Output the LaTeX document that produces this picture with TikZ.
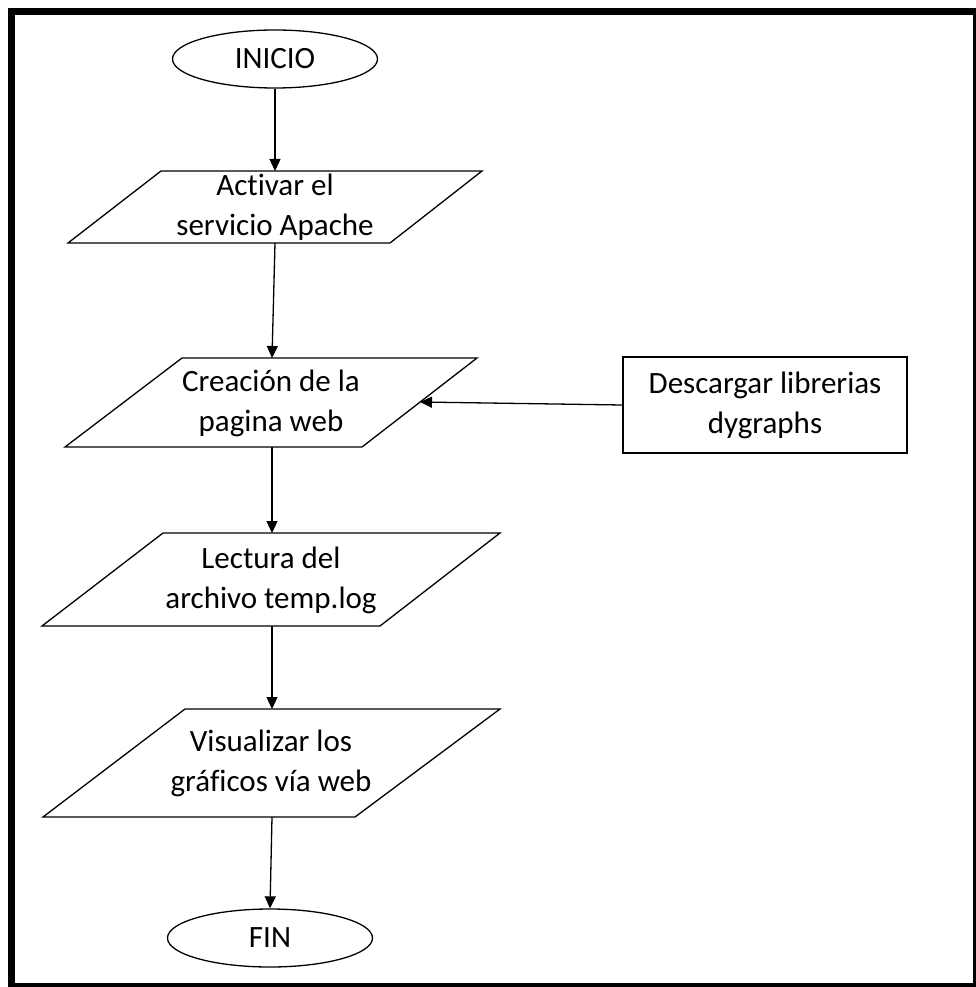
\documentclass[tikz,border=0pt]{standalone}
\usepackage{fontspec}
\setmainfont{Carlito}[Ligatures=NoCommon]
\usetikzlibrary{shapes.geometric,arrows.meta}

\tikzset{
  flowline/.style={line width=1.3pt, -{Triangle[length=12pt,width=11pt]}},
  shapeline/.style={line width=1.3pt, line join=miter},
  txt/.style={align=center, font=\fontsize{31}{40}\selectfont, inner sep=0pt},
  terminal/.style={ellipse, draw, line width=1.3pt, minimum width=205pt, minimum height=58pt,
                   inner sep=0pt, font=\fontsize{31}{40}\selectfont},
  procbox/.style={rectangle, draw, line width=1.3pt, minimum width=284pt, minimum height=96pt,
                  align=center, inner sep=0pt, font=\fontsize{31}{40}\selectfont},
}

\begin{document}
\begin{tikzpicture}[x=1pt,y=-1pt]
  \useasboundingbox (0,0) rectangle (976,987);
  \clip (0,0) rectangle (976,987);
  \fill[white] (0,0) rectangle (976,987);

  % outer frame
  \draw[line width=7pt] (11.5,11.5) rectangle (976.5,986.5);

  % start and end
  \node[terminal] (inicio) at (275,59) {INICIO};
  \node[terminal] (fin) at (270,938) {FIN};

  % input/output parallelograms
  \draw[shapeline] (161,171) -- (482,171) -- (390,243) -- (68,243) -- cycle;
  \coordinate (p1t) at (275,171);
  \coordinate (p1b) at (275,243);
  \node[txt] (p1) at (275,207) {Activar el\\servicio Apache};

  \draw[shapeline] (182,358) -- (477,358) -- (362,447) -- (65,447) -- cycle;
  \coordinate (p2t) at (272,358);
  \coordinate (p2b) at (272,447);
  \coordinate (p2r) at (420,402);
  \node[txt] (p2) at (271,403) {Creación de la\\pagina web};

  \draw[shapeline] (163,533) -- (500,533) -- (380,626) -- (42,626) -- cycle;
  \coordinate (p3t) at (272,533);
  \coordinate (p3b) at (272,626);
  \node[txt] (p3) at (271,580) {Lectura del\\archivo temp.log};

  \draw[shapeline] (185,709) -- (500,709) -- (355,817) -- (43,817) -- cycle;
  \coordinate (p4t) at (272,709);
  \coordinate (p4b) at (272,817);
  \node[txt] (p4) at (271,763) {Visualizar los\\gráficos vía web};

  % side process
  \node[procbox] (lib) at (765,405) {Descargar librerias\\dygraphs};

  % connectors
  \draw[flowline] (inicio.south) -- (p1t);
  \draw[flowline] (p1b) -- (p2t);
  \draw[flowline] (lib.west) -- (p2r);
  \draw[flowline] (p2b) -- (p3t);
  \draw[flowline] (p3b) -- (p4t);
  \draw[flowline] (p4b) -- (fin.north);
\end{tikzpicture}
\end{document}
